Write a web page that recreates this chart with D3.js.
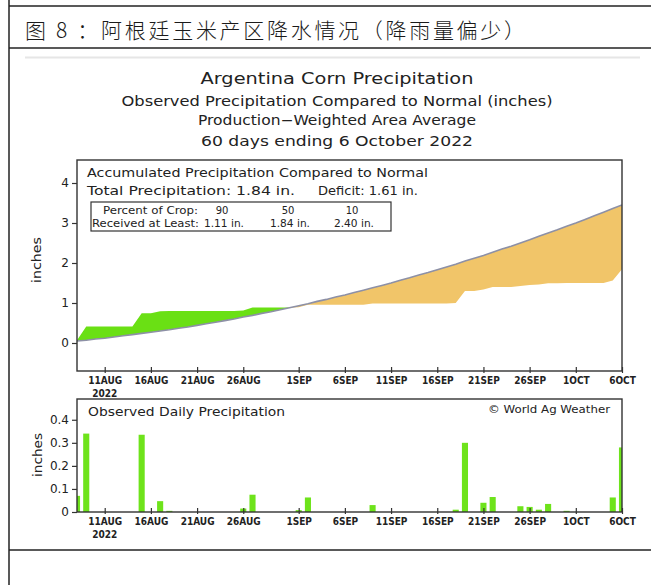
<!DOCTYPE html>
<html>
<head>
<meta charset="utf-8">
<script src="https://cdn.jsdelivr.net/npm/d3@7"></script>
<style>
  body { margin: 0; background: #fff; }
  svg { display: block; }
  .gt { font-family: "DejaVu Sans", "Liberation Sans", sans-serif; fill: #222; }
  .tick-x { font-family: "Liberation Sans Narrow", "DejaVu Sans Condensed", "Arial Narrow", sans-serif; font-stretch: condensed; font-weight: bold; fill: #222; }
</style>
</head>
<body>
<svg id="chart" width="651" height="585"></svg>
<script>
// ---- data ----------------------------------------------------------------
const heading = "图 8 ：阿根廷玉米产区降水情况（降雨量偏少）";
const titleLines = [
  "Argentina Corn Precipitation",
  "Observed Precipitation Compared to Normal (inches)",
  "Production\u2212Weighted Area Average",
  "60 days ending 6 October 2022"
];
const startDay = new Date(2022, 7, 8);
const endDay = new Date(2022, 9, 6);

// observed daily precipitation (inches), 8 Aug .. 6 Oct 2022
const dailyPrecip = [
  0.07, 0.34, 0, 0, 0, 0, 0, 0.335, 0, 0.047,
  0.005, 0, 0, 0, 0, 0, 0, 0, 0.015, 0.075,
  0, 0, 0, 0, 0.008, 0.063, 0, 0, 0, 0,
  0, 0, 0.03, 0, 0, 0, 0, 0, 0, 0,
  0, 0.01, 0.30, 0, 0.04, 0.065, 0, 0, 0.025, 0.022,
  0.01, 0.035, 0, 0.005, 0, 0, 0, 0, 0.063, 0.28
];

// normal accumulated precipitation (inches), same days
const normalAccum = [
  0.05, 0.07, 0.10, 0.12, 0.15, 0.18, 0.21, 0.24, 0.27, 0.30,
  0.33, 0.37, 0.40, 0.44, 0.48, 0.52, 0.56, 0.60, 0.65, 0.69,
  0.74, 0.78, 0.83, 0.88, 0.93, 0.98, 1.04, 1.09, 1.15, 1.20,
  1.26, 1.32, 1.38, 1.44, 1.50, 1.57, 1.63, 1.70, 1.76, 1.83,
  1.90, 1.97, 2.05, 2.12, 2.19, 2.27, 2.35, 2.42, 2.50, 2.58,
  2.67, 2.75, 2.83, 2.92, 3.00, 3.09, 3.18, 3.27, 3.36, 3.45
];

const tickDates = ["2022-08-11", "2022-08-16", "2022-08-21", "2022-08-26", "2022-09-01", "2022-09-06",
                   "2022-09-11", "2022-09-16", "2022-09-21", "2022-09-26", "2022-10-01", "2022-10-06"];
const tickLabels = ["11AUG", "16AUG", "21AUG", "26AUG", "1SEP", "6SEP",
                    "11SEP", "16SEP", "21SEP", "26SEP", "1OCT", "6OCT"];
const accumTicks = [0, 1, 2, 3, 4];
const dailyTicks = [0, 0.1, 0.2, 0.3, 0.4];

const totalPrecip = "1.84";
const deficit = "1.61";
const cropPercent = ["90", "50", "10"];
const cropReceived = ["1.11 in.", "1.84 in.", "2.40 in."];

// ---- setup ---------------------------------------------------------------
const svg = d3.select("#chart");
const parse = d3.timeParse("%Y-%m-%d");
const days = d3.timeDay.range(startDay, d3.timeDay.offset(endDay, 1));
const obsAccum = Array.from(d3.cumsum(dailyPrecip));
const rows = days.map((d, i) => ({ date: d, obs: obsAccum[i], norm: normalAccum[i], rain: dailyPrecip[i] }));

const L = 77, R = 622;
const top1 = 160, bot1 = 371;
const top2 = 399, bot2 = 512;

const x = d3.scaleTime().domain([startDay, endDay]).range([L, R]);
const yA = d3.scaleLinear().domain([-0.7, 4.575]).range([bot1, top1]);
const yD = d3.scaleLinear().domain([0, 0.49]).range([bot2, top2]);

// ---- page frame & heading -------------------------------------------------
svg.append("rect").attr("width", 651).attr("height", 585).attr("fill", "#fff");
const rule = (x1, y1, x2, y2, w) => svg.append("line")
  .attr("x1", x1).attr("y1", y1).attr("x2", x2).attr("y2", y2)
  .attr("stroke", "#222").attr("stroke-width", w);
rule(9, 0, 9, 585, 1.5);
rule(9, 6, 651, 6, 1.5);
rule(9, 48, 651, 48, 1.5);
rule(9, 550, 651, 550, 1.5);

svg.append("text").attr("x", 25).attr("y", 38)
  .attr("font-family", "'Noto Sans CJK SC', sans-serif")
  .attr("font-size", 21).attr("font-weight", 300).attr("fill", "#1a1a1a")
  .attr("textLength", 500).attr("lengthAdjust", "spacing")
  .text(heading);

svg.append("line").attr("x1", 25).attr("x2", 640).attr("y1", 57.5).attr("y2", 57.5)
  .attr("stroke", "#e6e6e6").attr("stroke-width", 2);

// ---- chart titles ---------------------------------------------------------
const titleSpec = [
  { y: 84, size: 16.5, w: 273 },
  { y: 106, size: 13.5, w: 431 },
  { y: 125, size: 13.5, w: 278 },
  { y: 146, size: 14.5, w: 272 }
];
titleLines.forEach((t, i) => {
  const s = titleSpec[i];
  svg.append("text").attr("class", "gt")
    .attr("x", 337).attr("y", s.y).attr("text-anchor", "middle")
    .attr("font-size", s.size)
    .attr("textLength", s.w).attr("lengthAdjust", "spacingAndGlyphs")
    .text(t);
});

// ---- clip paths -------------------------------------------------------------
const defs = svg.append("defs");
defs.append("clipPath").attr("id", "clip1").append("rect")
  .attr("x", L).attr("y", top1).attr("width", R - L).attr("height", bot1 - top1);
defs.append("clipPath").attr("id", "clip2").append("rect")
  .attr("x", L).attr("y", top2).attr("width", R - L).attr("height", bot2 - top2);
defs.append("clipPath").attr("id", "aboveNormal").append("path")
  .attr("d", d3.area().x(d => x(d.date)).y0(d => yA(d.norm)).y1(top1)(rows));
defs.append("clipPath").attr("id", "belowNormal").append("path")
  .attr("d", d3.area().x(d => x(d.date)).y0(d => yA(d.norm)).y1(bot1)(rows));

// ---- accumulated panel ------------------------------------------------------
const between = d3.area().x(d => x(d.date)).y0(d => yA(d.norm)).y1(d => yA(d.obs));
const g1 = svg.append("g").attr("clip-path", "url(#clip1)");
g1.append("g").attr("clip-path", "url(#aboveNormal)")
  .append("path").attr("d", between(rows)).attr("fill", "#6ae014");
g1.append("g").attr("clip-path", "url(#belowNormal)")
  .append("path").attr("d", between(rows)).attr("fill", "#f1c569");
g1.append("path")
  .attr("d", d3.line().x(d => x(d.date)).y(d => yA(d.norm))(rows))
  .attr("fill", "none").attr("stroke", "#8d90a6").attr("stroke-width", 1.6);

// frame
svg.append("rect").attr("x", L).attr("y", top1).attr("width", R - L).attr("height", bot1 - top1)
  .attr("fill", "none").attr("stroke", "#333").attr("stroke-width", 1.4);

// y axis
const ya = svg.append("g").attr("transform", `translate(${L},0)`)
  .call(d3.axisLeft(yA).tickValues(accumTicks).tickFormat(d3.format("d")).tickSize(5).tickPadding(3));
ya.select(".domain").remove();
ya.selectAll("line").attr("stroke", "#333").attr("stroke-width", 1.2);
ya.selectAll("text").attr("class", "gt").attr("font-size", 12).attr("font-family", "DejaVu Sans, sans-serif").attr("fill", "#222");

svg.append("text").attr("class", "gt")
  .attr("transform", `translate(41,260) rotate(-90)`)
  .attr("text-anchor", "middle").attr("font-size", 13)
  .attr("textLength", 46).attr("lengthAdjust", "spacingAndGlyphs")
  .text("inches");

// x axis
function dateAxis(yPos) {
  const ax = svg.append("g").attr("transform", `translate(0,${yPos})`)
    .call(d3.axisBottom(x).tickValues(tickDates.map(parse))
      .tickFormat((d, i) => tickLabels[i]).tickSizeInner(-4).tickSizeOuter(0).tickPadding(6));
  ax.select(".domain").remove();
  ax.selectAll("line").attr("stroke", "#333").attr("stroke-width", 1.2).attr("y2", -4).attr("y1", 2);
  ax.selectAll("text").attr("class", "tick-x").attr("font-size", 10).attr("fill", "#222")
    .attr("font-family", "'Liberation Sans Narrow','DejaVu Sans Condensed',sans-serif");
  ax.append("text").attr("class", "tick-x")
    .attr("x", x(parse(tickDates[0]))).attr("y", 26).attr("text-anchor", "middle")
    .attr("font-size", 10).attr("fill", "#222")
    .attr("font-family", "'Liberation Sans Narrow','DejaVu Sans Condensed',sans-serif")
    .text("2022");
}
dateAxis(bot1);

// caption block
svg.append("text").attr("class", "gt").attr("x", 87).attr("y", 177)
  .attr("font-size", 12.3).attr("textLength", 341).attr("lengthAdjust", "spacingAndGlyphs")
  .text("Accumulated Precipitation Compared to Normal");
const line2 = svg.append("text").attr("class", "gt").attr("x", 87).attr("y", 195).attr("font-size", 12.3);
line2.append("tspan").text(`Total Precipitation: ${totalPrecip} in.`)
  .attr("textLength", 208).attr("lengthAdjust", "spacingAndGlyphs");
line2.append("tspan").attr("x", 318).text(`Deficit: ${deficit} in.`)
  .attr("textLength", 100).attr("lengthAdjust", "spacingAndGlyphs");

svg.append("rect").attr("x", 91).attr("y", 202).attr("width", 300).attr("height", 29)
  .attr("fill", "none").attr("stroke", "#333").attr("stroke-width", 1.2);
svg.append("text").attr("class", "gt").attr("x", 103).attr("y", 214).attr("font-size", 10)
  .attr("textLength", 95).attr("lengthAdjust", "spacingAndGlyphs").text("Percent of Crop:");
svg.append("text").attr("class", "gt").attr("x", 92).attr("y", 227).attr("font-size", 10)
  .attr("textLength", 107).attr("lengthAdjust", "spacingAndGlyphs").text("Received at Least:");
const colX = [224, 290, 354];
cropPercent.forEach((p, i) => {
  svg.append("text").attr("class", "gt").attr("x", colX[i] - 2).attr("y", 214)
    .attr("font-size", 10).attr("text-anchor", "middle").text(p);
  svg.append("text").attr("class", "gt").attr("x", colX[i]).attr("y", 227)
    .attr("font-size", 10).attr("text-anchor", "middle")
    .attr("textLength", 40).attr("lengthAdjust", "spacingAndGlyphs").text(cropReceived[i]);
});

// ---- daily panel ------------------------------------------------------------
const dayW = x(d3.timeDay.offset(startDay, 1)) - x(startDay);
const barW = dayW * 0.66;
svg.append("g").attr("clip-path", "url(#clip2)")
  .selectAll("rect").data(rows.filter(d => d.rain > 0)).join("rect")
  .attr("x", d => x(d.date) - barW / 2)
  .attr("width", barW)
  .attr("y", d => yD(d.rain))
  .attr("height", d => yD(0) - yD(d.rain))
  .attr("fill", "#6ee31b");

svg.append("rect").attr("x", L).attr("y", top2).attr("width", R - L).attr("height", bot2 - top2)
  .attr("fill", "none").attr("stroke", "#333").attr("stroke-width", 1.4);

const yd = svg.append("g").attr("transform", `translate(${L},0)`)
  .call(d3.axisLeft(yD).tickValues(dailyTicks).tickFormat(d => d === 0 ? "0" : d3.format(".1f")(d)).tickSize(5).tickPadding(3));
yd.select(".domain").remove();
yd.selectAll("line").attr("stroke", "#333").attr("stroke-width", 1.2);
yd.selectAll("text").attr("font-size", 12).attr("font-family", "DejaVu Sans, sans-serif").attr("fill", "#222");

svg.append("text").attr("class", "gt")
  .attr("transform", `translate(42,455) rotate(-90)`)
  .attr("text-anchor", "middle").attr("font-size", 13)
  .attr("textLength", 44).attr("lengthAdjust", "spacingAndGlyphs")
  .text("inches");

dateAxis(bot2);

svg.append("text").attr("class", "gt").attr("x", 88).attr("y", 416)
  .attr("font-size", 12.3).attr("textLength", 197).attr("lengthAdjust", "spacingAndGlyphs")
  .text("Observed Daily Precipitation");
svg.append("text").attr("class", "gt").attr("x", 610).attr("y", 413)
  .attr("font-size", 10.5).attr("text-anchor", "end")
  .attr("textLength", 122).attr("lengthAdjust", "spacingAndGlyphs")
  .text("\u00a9 World Ag Weather");
</script>
</body>
</html>
